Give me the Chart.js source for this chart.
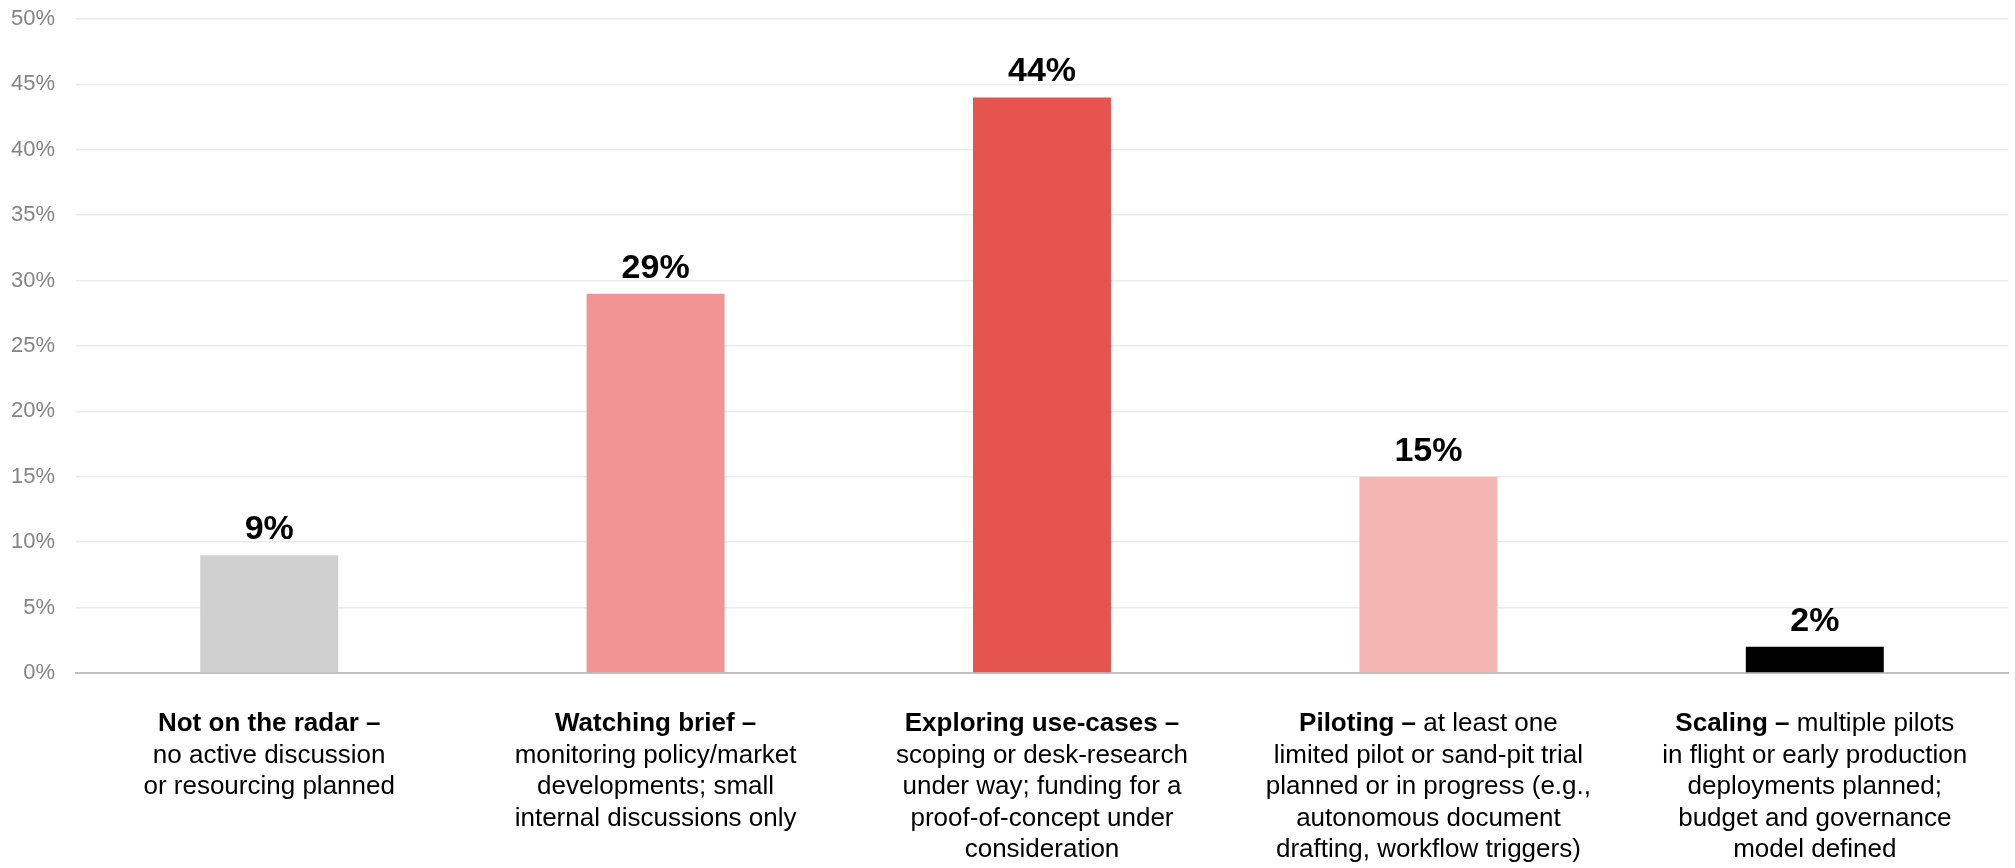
<!DOCTYPE html>
<html>
<head>
<meta charset="utf-8">
<script src="https://cdn.jsdelivr.net/npm/chart.js@4"></script>
<style>
  html, body { margin: 0; padding: 0; background: #fff; }
  #grafico { display: block; }
</style>
</head>
<body>
<canvas id="grafico" width="2015" height="868"></canvas>
<script>
// fases de adoção e percentagem de respostas
var fases = ['Not on the radar', 'Watching brief', 'Exploring use-cases', 'Piloting', 'Scaling']
var percentagens = [9, 29, 44, 15, 2]
var cores = ['#d0d0d0', '#f09593', '#e65450', '#f4b5b3', '#000000']

// texto descritivo debaixo de cada fase; o primeiro item fica na mesma linha do título
var descricoes = [
  ['', 'no active discussion', 'or resourcing planned'],
  ['', 'monitoring policy/market', 'developments; small', 'internal discussions only'],
  ['', 'scoping or desk-research', 'under way; funding for a', 'proof-of-concept under', 'consideration'],
  [' at least one', 'limited pilot or sand-pit trial', 'planned or in progress (e.g.,', 'autonomous document', 'drafting, workflow triggers)'],
  [' multiple pilots', 'in flight or early production', 'deployments planned;', 'budget and governance', 'model defined']
]

var yMax = 50
var yPasso = 5

var fonte = '"Liberation Sans", Arial, sans-serif'

// escreve o valor por cima de cada barra
var rotulosValores = {
  id: 'rotulosValores',
  afterDatasetsDraw: function(chart) {
    var ctx = chart.ctx
    var meta = chart.getDatasetMeta(0)
    ctx.save()
    ctx.font = 'bold 34px ' + fonte
    ctx.fillStyle = '#000'
    ctx.textAlign = 'center'
    ctx.textBaseline = 'alphabetic'
    meta.data.forEach(function(barra, i) {
      ctx.fillText(percentagens[i] + '%', barra.x, barra.y - 16)
    })
    ctx.restore()
  }
}

// legendas das categorias com título a negrito
var legendasCategorias = {
  id: 'legendasCategorias',
  afterDraw: function(chart) {
    var ctx = chart.ctx
    var x = chart.scales.x
    var base = chart.chartArea.bottom + 51
    var altura = 31.5
    ctx.save()
    ctx.fillStyle = '#000'
    ctx.textBaseline = 'middle'
    ctx.textAlign = 'left'
    fases.forEach(function(fase, i) {
      var cx = x.getPixelForTick(i)
      var titulo = fase + ' –'
      var resto = descricoes[i][0]
      ctx.font = 'bold 26px ' + fonte
      var w1 = ctx.measureText(titulo).width
      ctx.font = '26px ' + fonte
      var w2 = ctx.measureText(resto).width
      var x0 = cx - (w1 + w2) / 2
      ctx.font = 'bold 26px ' + fonte
      ctx.fillText(titulo, x0, base)
      ctx.font = '26px ' + fonte
      ctx.fillText(resto, x0 + w1, base)
      ctx.textAlign = 'center'
      for (var j = 1; j < descricoes[i].length; j++) {
        ctx.fillText(descricoes[i][j], cx, base + j * altura)
      }
      ctx.textAlign = 'left'
    })
    ctx.restore()
  }
}

var ctx = document.getElementById('grafico').getContext('2d')
new Chart(ctx, {
  type: 'bar',
  data: {
    labels: fases,
    datasets: [{
      data: percentagens,
      backgroundColor: cores,
      borderWidth: 0,
      categoryPercentage: 1,
      barPercentage: 0.357
    }]
  },
  options: {
    responsive: false,
    animation: false,
    layout: { padding: { top: 19, right: 7, bottom: 195, left: 0 } },
    plugins: {
      legend: { display: false },
      tooltip: { enabled: false }
    },
    scales: {
      x: {
        afterFit: function(scale) { scale.height = 0 },
        ticks: { display: false },
        grid: { display: false },
        border: { display: true, color: '#c0c0c0', width: 2 }
      },
      y: {
        min: 0,
        max: yMax,
        afterFit: function(scale) {
          scale.width = 76
          scale.paddingTop = 0
          scale.paddingBottom = 0
        },
        ticks: {
          stepSize: yPasso,
          padding: 21,
          color: '#858585',
          font: { family: fonte, size: 22 },
          callback: function(v) { return v + '%' }
        },
        grid: { color: '#ebebeb', lineWidth: 1.5, drawTicks: false },
        border: { display: false }
      }
    }
  },
  plugins: [rotulosValores, legendasCategorias]
})
</script>
</body>
</html>
